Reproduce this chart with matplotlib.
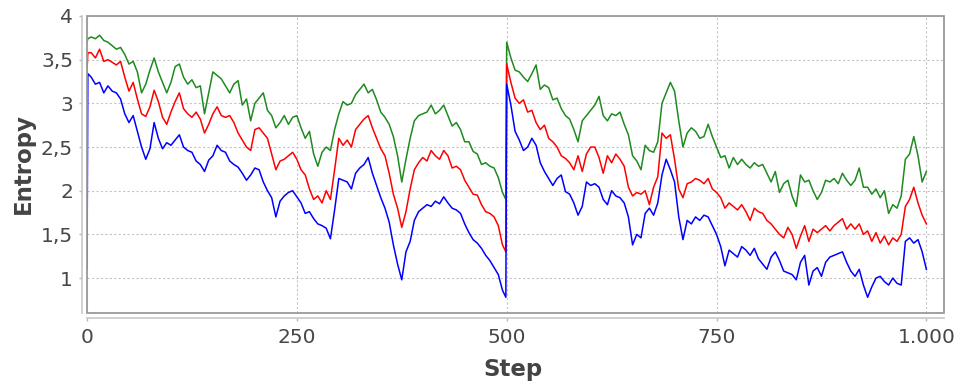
import matplotlib
matplotlib.use("Agg")
import matplotlib.pyplot as plt
from matplotlib.patches import Rectangle

# x positions: run 1 starts at step 0 and resets at step 500
steps_run1 = [0, 1] + list(range(5, 500, 5)) + [499]
steps_run2 = list(range(500, 1001, 5))

green_run1 = [3.70, 3.74,
              3.76, 3.74, 3.78, 3.72, 3.70, 3.66, 3.62, 3.64, 3.56, 3.45,
              3.48, 3.36, 3.12, 3.22, 3.38, 3.52, 3.36, 3.24, 3.12, 3.24,
              3.42, 3.45, 3.30, 3.22, 3.27, 3.18, 3.20, 2.88, 3.12, 3.36,
              3.32, 3.28, 3.20, 3.12, 3.22, 3.26, 2.98, 3.05, 2.80, 3.00,
              3.06, 3.12, 2.92, 2.86, 2.72, 2.78, 2.86, 2.76, 2.84, 2.86,
              2.72, 2.60, 2.68, 2.42, 2.28, 2.44, 2.50, 2.46, 2.70, 2.88,
              3.02, 2.98, 3.00, 3.10, 3.16, 3.22, 3.12, 3.16, 3.04, 2.90,
              2.84, 2.76, 2.62, 2.40, 2.10, 2.36, 2.60, 2.80, 2.86, 2.88,
              2.90, 2.98, 2.88, 2.92, 2.98, 2.86, 2.74, 2.78, 2.70, 2.56,
              2.56, 2.45, 2.42, 2.30, 2.32, 2.28, 2.26, 2.15, 1.98, 1.90]
green_run2 = [3.70,
              3.52, 3.38, 3.36, 3.30, 3.25, 3.34, 3.44, 3.16, 3.21, 3.18,
              3.04, 3.06, 2.94, 2.86, 2.82, 2.70, 2.56, 2.80, 2.86, 2.92,
              2.98, 3.08, 2.86, 2.80, 2.88, 2.86, 2.90, 2.76, 2.64, 2.40,
              2.34, 2.24, 2.52, 2.46, 2.44, 2.56, 3.00, 3.12, 3.24, 3.14,
              2.80, 2.50, 2.66, 2.72, 2.68, 2.60, 2.62, 2.76, 2.62, 2.50,
              2.38, 2.40, 2.26, 2.38, 2.30, 2.36, 2.30, 2.26, 2.32, 2.28,
              2.30, 2.20, 2.10, 2.22, 1.98, 2.08, 2.12, 1.94, 1.82, 2.18,
              2.10, 2.12, 2.00, 1.90, 1.98, 2.12, 2.10, 2.14, 2.08, 2.20,
              2.12, 2.06, 2.12, 2.26, 2.04, 2.04, 1.96, 2.02, 1.92, 2.00,
              1.74, 1.84, 1.80, 1.94, 2.36, 2.42, 2.62, 2.40, 2.10, 2.22]

red_run1 = [3.38, 3.58,
            3.58, 3.52, 3.62, 3.48, 3.50, 3.47, 3.44, 3.48, 3.30, 3.14,
            3.24, 3.05, 2.88, 2.85, 2.96, 3.15, 3.02, 2.84, 2.76, 2.90,
            3.02, 3.12, 2.94, 2.88, 2.84, 2.90, 2.82, 2.66, 2.76, 2.88,
            2.96, 2.86, 2.84, 2.86, 2.78, 2.66, 2.58, 2.50, 2.46, 2.70,
            2.72, 2.66, 2.60, 2.42, 2.24, 2.34, 2.36, 2.40, 2.44, 2.36,
            2.24, 2.18, 2.02, 1.90, 1.94, 1.86, 2.00, 1.90, 2.24, 2.60,
            2.52, 2.58, 2.50, 2.70, 2.76, 2.82, 2.86, 2.72, 2.60, 2.48,
            2.40, 2.20, 1.96, 1.80, 1.58, 1.76, 2.02, 2.24, 2.32, 2.38,
            2.34, 2.46, 2.40, 2.36, 2.46, 2.40, 2.26, 2.28, 2.24, 2.12,
            2.04, 1.96, 1.95, 1.84, 1.76, 1.74, 1.70, 1.60, 1.38, 1.30]
red_run2 = [3.45,
            3.24, 3.06, 3.00, 3.04, 2.90, 2.92, 2.78, 2.70, 2.75, 2.60,
            2.56, 2.50, 2.40, 2.37, 2.32, 2.24, 2.40, 2.22, 2.42, 2.50,
            2.50, 2.38, 2.20, 2.40, 2.32, 2.42, 2.36, 2.28, 2.04, 1.94,
            1.98, 1.96, 2.00, 1.84, 2.04, 2.16, 2.66, 2.60, 2.64, 2.36,
            2.02, 1.92, 2.08, 2.10, 2.14, 2.12, 2.08, 2.14, 2.02, 1.98,
            1.92, 1.80, 1.86, 1.82, 1.78, 1.84, 1.76, 1.66, 1.80, 1.76,
            1.74, 1.66, 1.62, 1.56, 1.50, 1.46, 1.58, 1.50, 1.34, 1.48,
            1.60, 1.42, 1.56, 1.52, 1.56, 1.60, 1.54, 1.60, 1.64, 1.68,
            1.56, 1.62, 1.56, 1.62, 1.50, 1.54, 1.42, 1.52, 1.40, 1.48,
            1.38, 1.46, 1.42, 1.50, 1.82, 1.90, 2.04, 1.86, 1.72, 1.62]

blue_run1 = [1.10, 3.34,
             3.30, 3.22, 3.24, 3.12, 3.20, 3.14, 3.12, 3.05, 2.88, 2.78,
             2.86, 2.68, 2.50, 2.36, 2.48, 2.78, 2.60, 2.48, 2.55, 2.52,
             2.58, 2.64, 2.50, 2.46, 2.44, 2.34, 2.30, 2.22, 2.35, 2.40,
             2.52, 2.46, 2.44, 2.34, 2.30, 2.27, 2.20, 2.12, 2.18, 2.26,
             2.24, 2.10, 2.00, 1.92, 1.70, 1.88, 1.94, 1.98, 2.00, 1.93,
             1.86, 1.74, 1.76, 1.68, 1.62, 1.60, 1.57, 1.45, 1.78, 2.14,
             2.12, 2.10, 2.02, 2.20, 2.26, 2.30, 2.38, 2.20, 2.06, 1.92,
             1.80, 1.64, 1.38, 1.16, 0.98, 1.30, 1.42, 1.66, 1.76, 1.80,
             1.84, 1.82, 1.88, 1.85, 1.93, 1.86, 1.80, 1.78, 1.74, 1.62,
             1.52, 1.44, 1.40, 1.34, 1.26, 1.20, 1.12, 1.04, 0.86, 0.78]
blue_run2 = [3.22,
             2.98, 2.68, 2.58, 2.46, 2.50, 2.60, 2.52, 2.32, 2.22, 2.14,
             2.06, 2.14, 2.18, 1.99, 1.96, 1.86, 1.72, 1.82, 2.10, 2.06,
             2.08, 2.04, 1.90, 1.84, 2.00, 1.94, 1.92, 1.86, 1.70, 1.38,
             1.50, 1.46, 1.74, 1.80, 1.72, 1.86, 2.18, 2.36, 2.24, 2.10,
             1.70, 1.44, 1.66, 1.62, 1.70, 1.66, 1.72, 1.70, 1.60, 1.50,
             1.36, 1.14, 1.32, 1.28, 1.24, 1.36, 1.32, 1.26, 1.34, 1.22,
             1.16, 1.10, 1.24, 1.30, 1.20, 1.08, 1.06, 1.04, 0.98, 1.18,
             1.26, 0.92, 1.08, 1.12, 1.02, 1.18, 1.24, 1.26, 1.28, 1.30,
             1.18, 1.08, 1.02, 1.10, 0.92, 0.78, 0.90, 1.00, 1.02, 0.96,
             0.92, 1.00, 0.94, 0.92, 1.42, 1.46, 1.40, 1.44, 1.30, 1.10]

x_ticks = [0, 250, 500, 750, 1000]
x_tick_labels = ["0", "250", "500", "750", "1.000"]
y_ticks = [1, 1.5, 2, 2.5, 3, 3.5, 4]
y_tick_labels = ["1", "1,5", "2", "2,5", "3", "3,5", "4"]

steps = steps_run1 + steps_run2
series = [
    (green_run1 + green_run2, "#1f8a1f"),
    (red_run1 + red_run2, "#ff0000"),
    (blue_run1 + blue_run2, "#0000ff"),
]

fig = plt.figure(figsize=(9.55, 3.82), dpi=100)
ax = fig.add_axes([87 / 955, 1 - 313 / 382, 857 / 955, 297 / 382])

for values, color in series:
    assert len(values) == len(steps)
    ax.plot(steps, values, color=color, lw=1.1, zorder=3)

ax.set_xlim(0, 1021)
ax.set_ylim(0.6, 4.0)
ax.set_xticks(x_ticks)
ax.set_xticklabels(x_tick_labels)
ax.set_yticks(y_ticks)
ax.set_yticklabels(y_tick_labels)

ax.grid(True, color="#c4c4c4", linestyle=(0, (2, 2)), lw=0.8, zorder=1)

# plot outline plus the offset axis lines
ax.add_patch(Rectangle((0, 0), 1, 1, transform=ax.transAxes, fill=False,
                       edgecolor="#9a9a9a", lw=1.3, clip_on=False, zorder=5))
for side in ["top", "right"]:
    ax.spines[side].set_visible(False)
for side in ["left", "bottom"]:
    ax.spines[side].set_position(("outward", 3.6))
    ax.spines[side].set_color("#c8c8c8")
    ax.spines[side].set_linewidth(1.2)

ax.tick_params(direction="out", length=2.5, width=1, color="#b8b8b8",
               labelsize=14.5, labelcolor="#474747")
ax.tick_params(axis="x", pad=5)
ax.tick_params(axis="y", pad=4)

fig.text(23 / 955, 1 - 164 / 382, "Entropy", rotation=90, ha="center",
         va="center", fontsize=16.5, fontweight="bold", color="#444444")
fig.text(513 / 955, 1 - 376 / 382, "Step", ha="center", va="baseline",
         fontsize=16.5, fontweight="bold", color="#444444")

fig.savefig("out.png", dpi=100)
